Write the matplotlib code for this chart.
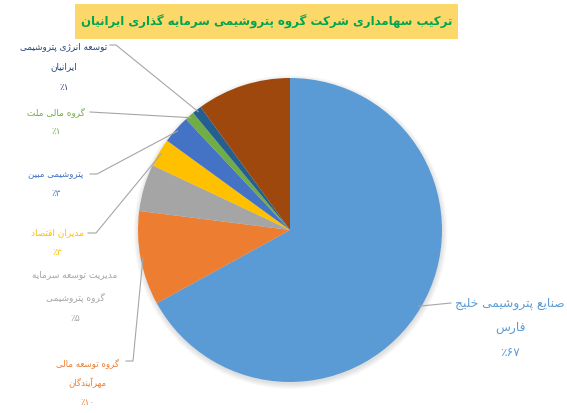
import numpy as np
import matplotlib
matplotlib.use("Agg")
import matplotlib.pyplot as plt
from matplotlib.patches import Circle, Rectangle

plt.rcParams['font.family'] = ['DejaVu Sans']

# data
names = ["صنایع پتروشیمی خلیج\nفارس",
         "گروه توسعه مالی\nمهرآیندگان",
         "مدیریت توسعه سرمایه\nگروه پتروشیمی",
         "مدیران اقتصاد",
         "پتروشیمی مبین",
         "گروه مالی ملت",
         "توسعه انرژی پتروشیمی\nایرانیان",
         ""]
shares = [67, 10, 5, 3, 3, 1, 1, 10]
colors = ["#5B9BD5", "#ED7D31", "#A5A5A5", "#FFC000", "#4472C4", "#70AD47", "#255E91", "#9E480E"]
text_colors = ["#5B9BD5", "#ED7D31", "#A5A5A5", "#FFC000", "#4472C4", "#70AD47", "#264478", "#9E480E"]
title = "ترکیب سهامداری شرکت گروه پتروشیمی سرمایه گذاری ایرانیان"

# minimal arabic/persian shaping (matplotlib has no complex text layout)
FORMS = {
    'ا': (0xFE8D, 0xFE8E), 'آ': (0xFE81, 0xFE82),
    'ب': (0xFE8F, 0xFE90, 0xFE91, 0xFE92), 'پ': (0xFB56, 0xFB57, 0xFB58, 0xFB59),
    'ت': (0xFE95, 0xFE96, 0xFE97, 0xFE98), 'ث': (0xFE99, 0xFE9A, 0xFE9B, 0xFE9C),
    'ج': (0xFE9D, 0xFE9E, 0xFE9F, 0xFEA0), 'چ': (0xFB7A, 0xFB7B, 0xFB7C, 0xFB7D),
    'ح': (0xFEA1, 0xFEA2, 0xFEA3, 0xFEA4), 'خ': (0xFEA5, 0xFEA6, 0xFEA7, 0xFEA8),
    'د': (0xFEA9, 0xFEAA), 'ذ': (0xFEAB, 0xFEAC), 'ر': (0xFEAD, 0xFEAE),
    'ز': (0xFEAF, 0xFEB0), 'ژ': (0xFB8A, 0xFB8B),
    'س': (0xFEB1, 0xFEB2, 0xFEB3, 0xFEB4), 'ش': (0xFEB5, 0xFEB6, 0xFEB7, 0xFEB8),
    'ص': (0xFEB9, 0xFEBA, 0xFEBB, 0xFEBC), 'ض': (0xFEBD, 0xFEBE, 0xFEBF, 0xFEC0),
    'ط': (0xFEC1, 0xFEC2, 0xFEC3, 0xFEC4), 'ظ': (0xFEC5, 0xFEC6, 0xFEC7, 0xFEC8),
    'ع': (0xFEC9, 0xFECA, 0xFECB, 0xFECC), 'غ': (0xFECD, 0xFECE, 0xFECF, 0xFED0),
    'ف': (0xFED1, 0xFED2, 0xFED3, 0xFED4), 'ق': (0xFED5, 0xFED6, 0xFED7, 0xFED8),
    'ک': (0xFB8E, 0xFB8F, 0xFB90, 0xFB91), 'گ': (0xFB92, 0xFB93, 0xFB94, 0xFB95),
    'ل': (0xFEDD, 0xFEDE, 0xFEDF, 0xFEE0), 'م': (0xFEE1, 0xFEE2, 0xFEE3, 0xFEE4),
    'ن': (0xFEE5, 0xFEE6, 0xFEE7, 0xFEE8), 'و': (0xFEED, 0xFEEE),
    'ه': (0xFEE9, 0xFEEA, 0xFEEB, 0xFEEC), 'ی': (0xFBFC, 0xFBFD, 0xFBFE, 0xFBFF),
}


def shape(line):
    out = []
    for i, c in enumerate(line):
        if c not in FORMS:
            out.append(c)
            continue
        prev = line[i - 1] if i > 0 else ''
        nxt = line[i + 1] if i + 1 < len(line) else ''
        jp = prev in FORMS and len(FORMS[prev]) == 4
        jn = len(FORMS[c]) == 4 and nxt in FORMS
        f = FORMS[c]
        if jp and jn:
            code = f[3]
        elif jp:
            code = f[1]
        elif jn:
            code = f[2]
        else:
            code = f[0]
        out.append(chr(code))
    return ''.join(out)[::-1]


def pct(v):
    return '٪' + str(v).translate(str.maketrans('0123456789', '۰۱۲۳۴۵۶۷۸۹'))


W, H = 567, 414
fig = plt.figure(figsize=(W / 100, H / 100), dpi=100)
ax = fig.add_axes([0, 0, 1, 1])
renderer = fig.canvas.get_renderer()


def fit_size(s, width, bold=False):
    # font size that makes the string about `width` pixels wide
    t = fig.text(0, 0, s, fontsize=10, fontweight='bold' if bold else 'normal')
    w = t.get_window_extent(renderer).width
    t.remove()
    return 10 * width / w


cx, cy, R = 290, H - 231, 152

# soft shadow
for k in range(8):
    ax.add_patch(Circle((cx + 0.5, cy - 2), R + 5 - k * 0.7, color='black',
                        alpha=0.016, lw=0, zorder=1))

wedges, _ = ax.pie(shares, colors=colors, startangle=90, counterclock=False,
                   center=(cx, cy), radius=R, frame=True,
                   wedgeprops=dict(linewidth=0))
for w in wedges:
    w.set_zorder(2)
ax.set_xlim(0, W)
ax.set_ylim(0, H)
ax.set_aspect('equal')
ax.axis('off')

# label layout: (center x, first line y, line step, first line width px, leader start points)
layout = [
    (510, 303, 25, 110, [(451, 304)]),
    (87, 363, 20, 63, [(126, 362), (133, 362)]),
    (75, 275, 22, 86, None),
    (57, 233, 20, 53, [(88, 234), (96, 234)]),
    (56, 175, 19, 55, [(90, 175), (97, 175)]),
    (56, 112, 20, 58, [(90, 113)]),
    (64, 47, 20, 88, [(110, 46), (116, 46)]),
    None,
]

for i, w in enumerate(wedges):
    if layout[i] is None:
        continue
    x0, y0, step, wpx, lead = layout[i]
    lines = [shape(s) for s in names[i].split('\n')] + [pct(shares[i])]
    fs = fit_size(lines[0], wpx)
    for j, s in enumerate(lines):
        ax.text(x0, H - (y0 + j * step), s, ha='center', va='center',
                fontsize=fs, color=text_colors[i], zorder=5)
    if lead:
        mid = np.deg2rad((w.theta1 + w.theta2) / 2)
        ex = cx + R * 0.985 * np.cos(mid)
        ey = cy + R * 0.985 * np.sin(mid)
        xs = [p[0] for p in lead] + [ex]
        ys = [H - p[1] for p in lead] + [ey]
        ax.plot(xs, ys, color='#A6A6A6', lw=0.8, zorder=3)

# title box
ax.add_patch(Rectangle((75, H - 40), 383, 35, color='#FCD86A', lw=0, zorder=4))
tt = shape(title)
ax.text(267, H - 22, tt, ha='center', va='center', fontsize=fit_size(tt, 372, bold=True),
        fontweight='bold', color='#00A550', zorder=5)

fig.savefig('out.png', dpi=100)
